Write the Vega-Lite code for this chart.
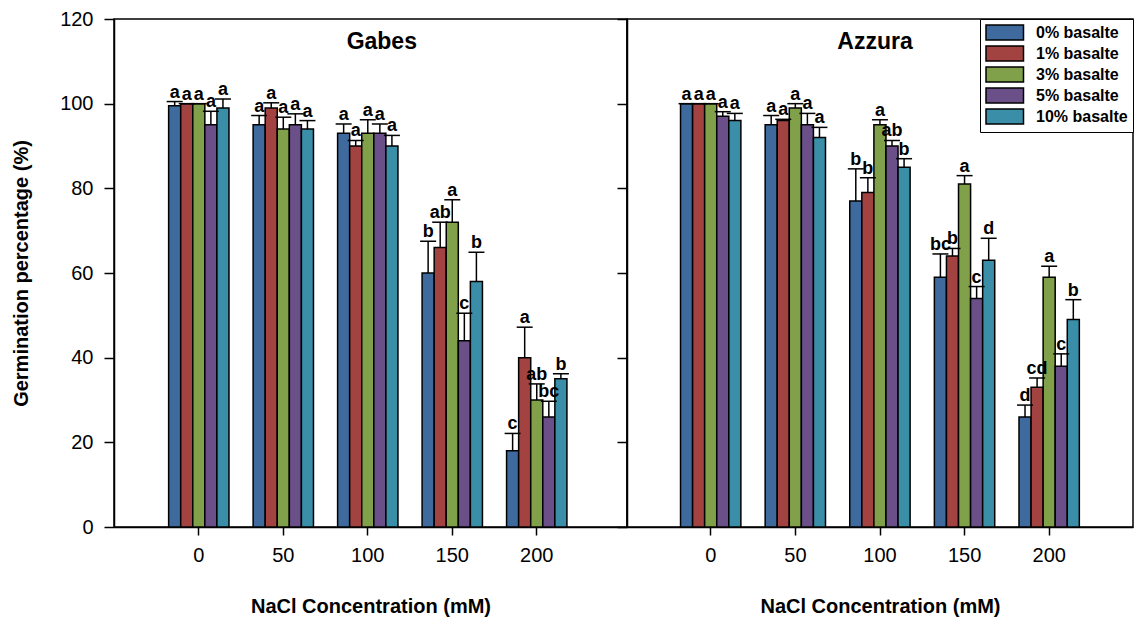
{
  "$schema": "https://vega.github.io/schema/vega-lite/v6.json",
  "background": "white",
  "padding": {"left": 10, "top": 8, "right": 0, "bottom": 0},
  "spacing": 0,
  "bounds": "flush",
  "config": {
    "font": "Liberation Sans",
    "view": {"stroke": "#000", "strokeWidth": 1.5},
    "axis": {"domainColor": "#000", "tickColor": "#000", "labelColor": "#000", "titleColor": "#000", "labelFont": "Liberation Sans", "titleFont": "Liberation Sans", "labelFontSize": 20, "titleFontSize": 20, "titleFontWeight": "bold", "grid": false, "domainWidth": 1.5, "tickWidth": 1.5}
  },
  "data": {"values": [
    {"cultivar": "Gabes", "conc": 0, "basalt": "0% basalte", "value": 99.5, "upper": 100.5, "letter": "a"},
    {"cultivar": "Gabes", "conc": 0, "basalt": "1% basalte", "value": 100, "upper": 100, "letter": "a"},
    {"cultivar": "Gabes", "conc": 0, "basalt": "3% basalte", "value": 100, "upper": 100, "letter": "a"},
    {"cultivar": "Gabes", "conc": 0, "basalt": "5% basalte", "value": 95, "upper": 98.2, "letter": "a"},
    {"cultivar": "Gabes", "conc": 0, "basalt": "10% basalte", "value": 99, "upper": 101.1, "letter": "a"},
    {"cultivar": "Gabes", "conc": 50, "basalt": "0% basalte", "value": 95, "upper": 97.2, "letter": "a"},
    {"cultivar": "Gabes", "conc": 50, "basalt": "1% basalte", "value": 99, "upper": 100.2, "letter": "a"},
    {"cultivar": "Gabes", "conc": 50, "basalt": "3% basalte", "value": 94, "upper": 96.8, "letter": "a"},
    {"cultivar": "Gabes", "conc": 50, "basalt": "5% basalte", "value": 95, "upper": 97.6, "letter": "a"},
    {"cultivar": "Gabes", "conc": 50, "basalt": "10% basalte", "value": 94, "upper": 96, "letter": "a"},
    {"cultivar": "Gabes", "conc": 100, "basalt": "0% basalte", "value": 93, "upper": 95.2, "letter": "a"},
    {"cultivar": "Gabes", "conc": 100, "basalt": "1% basalte", "value": 90, "upper": 91.3, "letter": "a"},
    {"cultivar": "Gabes", "conc": 100, "basalt": "3% basalte", "value": 93, "upper": 96.2, "letter": "a"},
    {"cultivar": "Gabes", "conc": 100, "basalt": "5% basalte", "value": 93, "upper": 95.2, "letter": "a"},
    {"cultivar": "Gabes", "conc": 100, "basalt": "10% basalte", "value": 90, "upper": 92.5, "letter": "a"},
    {"cultivar": "Gabes", "conc": 150, "basalt": "0% basalte", "value": 60, "upper": 67.5, "letter": "b"},
    {"cultivar": "Gabes", "conc": 150, "basalt": "1% basalte", "value": 66, "upper": 72, "letter": "ab"},
    {"cultivar": "Gabes", "conc": 150, "basalt": "3% basalte", "value": 72, "upper": 77.3, "letter": "a"},
    {"cultivar": "Gabes", "conc": 150, "basalt": "5% basalte", "value": 44, "upper": 50.5, "letter": "c"},
    {"cultivar": "Gabes", "conc": 150, "basalt": "10% basalte", "value": 58, "upper": 64.9, "letter": "b"},
    {"cultivar": "Gabes", "conc": 200, "basalt": "0% basalte", "value": 18, "upper": 22.1, "letter": "c"},
    {"cultivar": "Gabes", "conc": 200, "basalt": "1% basalte", "value": 40, "upper": 47.2, "letter": "a"},
    {"cultivar": "Gabes", "conc": 200, "basalt": "3% basalte", "value": 30, "upper": 33.8, "letter": "ab"},
    {"cultivar": "Gabes", "conc": 200, "basalt": "5% basalte", "value": 26, "upper": 29.7, "letter": "bc"},
    {"cultivar": "Gabes", "conc": 200, "basalt": "10% basalte", "value": 35, "upper": 36.2, "letter": "b"},
    {"cultivar": "Azzura", "conc": 0, "basalt": "0% basalte", "value": 100, "upper": 100, "letter": "a"},
    {"cultivar": "Azzura", "conc": 0, "basalt": "1% basalte", "value": 100, "upper": 100, "letter": "a"},
    {"cultivar": "Azzura", "conc": 0, "basalt": "3% basalte", "value": 100, "upper": 100, "letter": "a"},
    {"cultivar": "Azzura", "conc": 0, "basalt": "5% basalte", "value": 97, "upper": 98.1, "letter": "a"},
    {"cultivar": "Azzura", "conc": 0, "basalt": "10% basalte", "value": 96, "upper": 97.7, "letter": "a"},
    {"cultivar": "Azzura", "conc": 50, "basalt": "0% basalte", "value": 95, "upper": 97.2, "letter": "a"},
    {"cultivar": "Azzura", "conc": 50, "basalt": "1% basalte", "value": 96, "upper": 96.3, "letter": "a"},
    {"cultivar": "Azzura", "conc": 50, "basalt": "3% basalte", "value": 99, "upper": 100, "letter": "a"},
    {"cultivar": "Azzura", "conc": 50, "basalt": "5% basalte", "value": 95, "upper": 97.7, "letter": "a"},
    {"cultivar": "Azzura", "conc": 50, "basalt": "10% basalte", "value": 92, "upper": 94.4, "letter": "a"},
    {"cultivar": "Azzura", "conc": 100, "basalt": "0% basalte", "value": 77, "upper": 84.6, "letter": "b"},
    {"cultivar": "Azzura", "conc": 100, "basalt": "1% basalte", "value": 79, "upper": 82.5, "letter": "b"},
    {"cultivar": "Azzura", "conc": 100, "basalt": "3% basalte", "value": 95, "upper": 96.2, "letter": "a"},
    {"cultivar": "Azzura", "conc": 100, "basalt": "5% basalte", "value": 90, "upper": 91.3, "letter": "ab"},
    {"cultivar": "Azzura", "conc": 100, "basalt": "10% basalte", "value": 85, "upper": 87, "letter": "b"},
    {"cultivar": "Azzura", "conc": 150, "basalt": "0% basalte", "value": 59, "upper": 64.5, "letter": "bc"},
    {"cultivar": "Azzura", "conc": 150, "basalt": "1% basalte", "value": 64, "upper": 65.8, "letter": "b"},
    {"cultivar": "Azzura", "conc": 150, "basalt": "3% basalte", "value": 81, "upper": 83, "letter": "a"},
    {"cultivar": "Azzura", "conc": 150, "basalt": "5% basalte", "value": 54, "upper": 56.8, "letter": "c"},
    {"cultivar": "Azzura", "conc": 150, "basalt": "10% basalte", "value": 63, "upper": 68.2, "letter": "d"},
    {"cultivar": "Azzura", "conc": 200, "basalt": "0% basalte", "value": 26, "upper": 28.8, "letter": "d"},
    {"cultivar": "Azzura", "conc": 200, "basalt": "1% basalte", "value": 33, "upper": 35.2, "letter": "cd"},
    {"cultivar": "Azzura", "conc": 200, "basalt": "3% basalte", "value": 59, "upper": 61.6, "letter": "a"},
    {"cultivar": "Azzura", "conc": 200, "basalt": "5% basalte", "value": 38, "upper": 40.9, "letter": "c"},
    {"cultivar": "Azzura", "conc": 200, "basalt": "10% basalte", "value": 49, "upper": 53.7, "letter": "b"}
  ]},
  "resolve": {"scale": {"x": "independent", "color": "independent"}, "legend": {"color": "independent"}},
  "hconcat": [
    {
      "width": 513,
      "height": 508,
      "layer": [
        {
          "transform": [{"filter": "datum.cultivar === 'Gabes'"}],
          "mark": {"type": "bar", "stroke": "#000", "strokeWidth": 1.5},
          "encoding": {
            "x": {"field": "conc", "type": "ordinal", "scale": {"paddingInner": 0, "paddingOuter": 0.536, "align": 0.47}, "axis": {"title": "NaCl Concentration (mM)", "labelAngle": 0, "tickSize": 8, "labelPadding": 10, "titlePadding": 31}},
            "xOffset": {"field": "basalt", "type": "nominal", "sort": ["0% basalte", "1% basalte", "3% basalte", "5% basalte", "10% basalte"], "scale": {"paddingInner": 0, "paddingOuter": 1.05}},
            "y": {"field": "value", "type": "quantitative", "scale": {"domain": [0, 120]}, "axis": {"title": "Germination percentage (%)", "values": [0, 20, 40, 60, 80, 100, 120], "tickSize": 10, "labelPadding": 11, "titlePadding": 28}},
            "color": {"field": "basalt", "type": "nominal", "sort": ["0% basalte", "1% basalte", "3% basalte", "5% basalte", "10% basalte"], "scale": {"domain": ["0% basalte", "1% basalte", "3% basalte", "5% basalte", "10% basalte"], "range": ["#3F6A9E", "#A24341", "#81A04A", "#6A4F88", "#3B8EA7"]}, "legend": null}
          }
        },
        {
          "transform": [{"filter": "datum.cultivar === 'Gabes'"}],
          "mark": {"type": "rule", "color": "#000", "strokeWidth": 1.5},
          "encoding": {
            "x": {"field": "conc", "type": "ordinal"},
            "xOffset": {"field": "basalt", "type": "nominal", "sort": ["0% basalte", "1% basalte", "3% basalte", "5% basalte", "10% basalte"]},
            "y": {"field": "value", "type": "quantitative"},
            "y2": {"field": "upper"}
          }
        },
        {
          "transform": [{"filter": "datum.cultivar === 'Gabes'"}],
          "mark": {"type": "tick", "color": "#000", "size": 16, "thickness": 1.5, "opacity": 1},
          "encoding": {
            "x": {"field": "conc", "type": "ordinal"},
            "xOffset": {"field": "basalt", "type": "nominal", "sort": ["0% basalte", "1% basalte", "3% basalte", "5% basalte", "10% basalte"]},
            "y": {"field": "upper", "type": "quantitative"}
          }
        },
        {
          "transform": [{"filter": "datum.cultivar === 'Gabes'"}],
          "mark": {"type": "text", "color": "#000", "fontSize": 18, "fontWeight": "bold", "baseline": "alphabetic", "dy": -4},
          "encoding": {
            "x": {"field": "conc", "type": "ordinal"},
            "xOffset": {"field": "basalt", "type": "nominal", "sort": ["0% basalte", "1% basalte", "3% basalte", "5% basalte", "10% basalte"]},
            "y": {"field": "upper", "type": "quantitative"},
            "text": {"field": "letter"}
          }
        },
        {
          "data": {"values": [{"cultivar": "Gabes", "name": "Gabes"}]},
          "mark": {"type": "text", "color": "#000", "fontSize": 23, "fontWeight": "bold", "baseline": "middle", "dx": 14},
          "encoding": {
            "x": {"datum": 100, "type": "ordinal"},
            "y": {"datum": 114.5, "type": "quantitative"},
            "text": {"field": "name"}
          }
        }
      ]
    },
    {
      "width": 506,
      "height": 508,
      "layer": [
        {
          "transform": [{"filter": "datum.cultivar === 'Azzura'"}],
          "mark": {"type": "bar", "stroke": "#000", "strokeWidth": 1.5},
          "encoding": {
            "x": {"field": "conc", "type": "ordinal", "scale": {"paddingInner": 0, "paddingOuter": 0.49, "align": 0.5}, "axis": {"title": "NaCl Concentration (mM)", "labelAngle": 0, "tickSize": 8, "labelPadding": 10, "titlePadding": 31}},
            "xOffset": {"field": "basalt", "type": "nominal", "sort": ["0% basalte", "1% basalte", "3% basalte", "5% basalte", "10% basalte"], "scale": {"paddingInner": 0, "paddingOuter": 1.05}},
            "y": {"field": "value", "type": "quantitative", "scale": {"domain": [0, 120]}, "axis": {"title": null, "labels": false, "values": [0, 20, 40, 60, 80, 100, 120], "tickSize": 10}},
            "color": {"field": "basalt", "type": "nominal", "sort": ["0% basalte", "1% basalte", "3% basalte", "5% basalte", "10% basalte"], "scale": {"domain": ["0% basalte", "1% basalte", "3% basalte", "5% basalte", "10% basalte"], "range": ["#3F6A9E", "#A24341", "#81A04A", "#6A4F88", "#3B8EA7"]},
              "legend": {"title": null, "orient": "top-right", "offset": 0, "strokeColor": "#000", "fillColor": "white", "padding": 5, "symbolType": "M-1,-1H4V1H-1Z", "symbolSize": 225, "symbolStrokeColor": "#000", "symbolStrokeWidth": 1.5, "symbolOpacity": 1, "labelOffset": 34, "labelFontSize": 16, "labelFontWeight": "bold", "labelFont": "Liberation Sans", "labelColor": "#000", "rowPadding": 0}}
          }
        },
        {
          "transform": [{"filter": "datum.cultivar === 'Azzura'"}],
          "mark": {"type": "rule", "color": "#000", "strokeWidth": 1.5},
          "encoding": {
            "x": {"field": "conc", "type": "ordinal"},
            "xOffset": {"field": "basalt", "type": "nominal", "sort": ["0% basalte", "1% basalte", "3% basalte", "5% basalte", "10% basalte"]},
            "y": {"field": "value", "type": "quantitative"},
            "y2": {"field": "upper"}
          }
        },
        {
          "transform": [{"filter": "datum.cultivar === 'Azzura'"}],
          "mark": {"type": "tick", "color": "#000", "size": 16, "thickness": 1.5, "opacity": 1},
          "encoding": {
            "x": {"field": "conc", "type": "ordinal"},
            "xOffset": {"field": "basalt", "type": "nominal", "sort": ["0% basalte", "1% basalte", "3% basalte", "5% basalte", "10% basalte"]},
            "y": {"field": "upper", "type": "quantitative"}
          }
        },
        {
          "transform": [{"filter": "datum.cultivar === 'Azzura'"}],
          "mark": {"type": "text", "color": "#000", "fontSize": 18, "fontWeight": "bold", "baseline": "alphabetic", "dy": -4},
          "encoding": {
            "x": {"field": "conc", "type": "ordinal"},
            "xOffset": {"field": "basalt", "type": "nominal", "sort": ["0% basalte", "1% basalte", "3% basalte", "5% basalte", "10% basalte"]},
            "y": {"field": "upper", "type": "quantitative"},
            "text": {"field": "letter"}
          }
        },
        {
          "data": {"values": [{"cultivar": "Azzura", "name": "Azzura"}]},
          "mark": {"type": "text", "color": "#000", "fontSize": 23, "fontWeight": "bold", "baseline": "middle", "dx": -5},
          "encoding": {
            "x": {"datum": 100, "type": "ordinal"},
            "y": {"datum": 114.5, "type": "quantitative"},
            "text": {"field": "name"}
          }
        }
      ]
    }
  ]
}
